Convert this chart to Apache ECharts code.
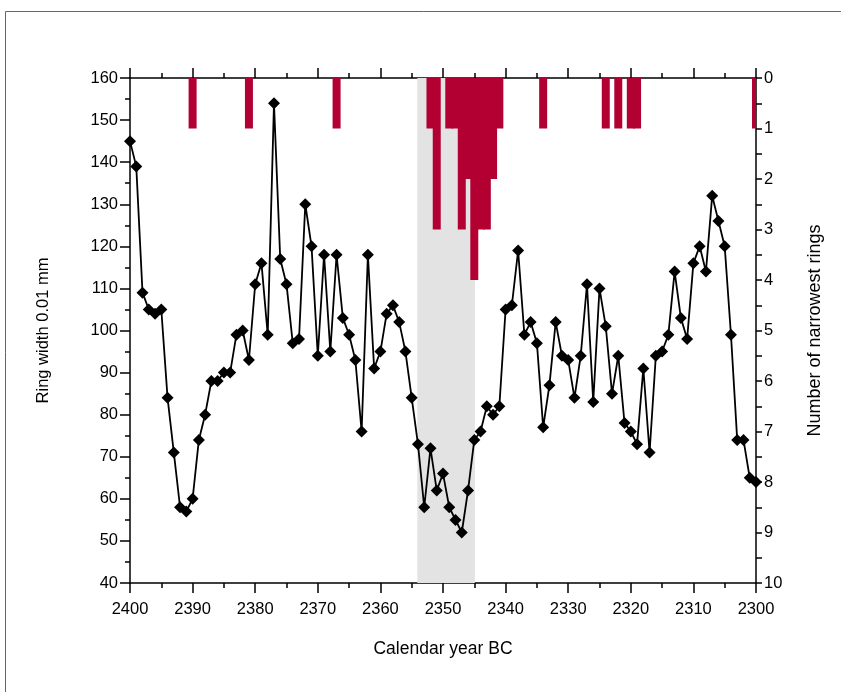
<!DOCTYPE html>
<html>
<head>
<meta charset="utf-8">
<script src="https://cdn.jsdelivr.net/npm/echarts@6/dist/echarts.min.js"></script>
<style>
html,body{margin:0;padding:0;background:#fff;}
#chart{width:841px;height:692px;}
</style>
</head>
<body>
<div id="chart"></div>
<script>
var years = [2400,2399,2398,2397,2396,2395,2394,2393,2392,2391,2390,2389,2388,2387,2386,2385,2384,2383,2382,2381,2380,2379,2378,2377,2376,2375,2374,2373,2372,2371,2370,2369,2368,2367,2366,2365,2364,2363,2362,2361,2360,2359,2358,2357,2356,2355,2354,2353,2352,2351,2350,2349,2348,2347,2346,2345,2344,2343,2342,2341,2340,2339,2338,2337,2336,2335,2334,2333,2332,2331,2330,2329,2328,2327,2326,2325,2324,2323,2322,2321,2320,2319,2318,2317,2316,2315,2314,2313,2312,2311,2310,2309,2308,2307,2306,2305,2304,2303,2302,2301,2300];
var ringWidth = [145,139,109,105,104,105,84,71,58,57,60,74,80,88,88,90,90,99,100,93,111,116,99,154,117,111,97,98,130,120,94,118,95,118,103,99,93,76,118,91,95,104,106,102,95,84,73,58,72,62,66,58,55,52,62,74,76,82,80,82,105,106,119,99,102,97,77,87,102,94,93,84,94,111,83,110,101,85,94,78,76,73,91,71,94,95,99,114,103,98,116,120,114,132,126,120,99,74,74,65,64];
var narrowYears = [2390,2381,2367,2352,2351,2349,2348,2347,2346,2345,2344,2343,2342,2341,2334,2324,2322,2320,2319,2300];
var narrowCounts = [1,1,1,1,3,1,1,3,2,4,3,3,2,1,1,1,1,1,1,1];
var shadeFrom = 2354.1, shadeTo = 2344.9;

var FONT = '"Liberation Sans",Arial,sans-serif';
var lineData = years.map(function(y,i){return [y, ringWidth[i]];});
var barData = narrowYears.map(function(y,i){return [y, narrowCounts[i]];});
var BAR_W = 8;

var axisLine = {show:true, onZero:false, lineStyle:{color:'#000', width:1.5}};
var tick = {show:true, inside:false, length:10, lineStyle:{color:'#000', width:1.5}};
var minor = {show:true, splitNumber:2, length:5, lineStyle:{color:'#000', width:1.5}};
var plain = function(v){return String(v);};

var chart = echarts.init(document.getElementById('chart'), null, {renderer:'canvas'});
chart.setOption({
  backgroundColor:'#fff',
  animation:false,
  graphic:[{type:'rect', shape:{x:5.5, y:11.5, width:900, height:800}, style:{fill:'none', stroke:'#666', lineWidth:1}, silent:true}],
  grid:{left:130, right:85, top:78, bottom:109, containLabel:false},
  xAxis:[{
    type:'value', min:2300, max:2400, interval:10, inverse:true, position:'bottom',
    name:'Calendar year BC', nameLocation:'middle', nameGap:57,
    nameTextStyle:{fontFamily:FONT, fontSize:17.5, color:'#000'},
    axisLine:axisLine, axisTick:tick, minorTick:minor,
    splitLine:{show:false},
    axisLabel:{fontFamily:FONT, fontSize:16.5, color:'#000', margin:18, formatter:plain}
  },{
    type:'value', min:2300, max:2400, interval:10, inverse:true, position:'top',
    axisLine:axisLine, axisTick:tick, minorTick:minor,
    splitLine:{show:false},
    axisLabel:{show:false}
  }],
  yAxis:[{
    type:'value', min:40, max:160, interval:10, position:'left',
    name:'Ring width 0.01 mm', nameLocation:'middle', nameGap:78, nameRotate:90,
    nameTextStyle:{fontFamily:FONT, fontSize:16.5, color:'#000'},
    axisLine:axisLine, axisTick:tick, minorTick:minor,
    splitLine:{show:false},
    axisLabel:{fontFamily:FONT, fontSize:16.5, color:'#000', margin:12, formatter:plain}
  },{
    type:'value', min:0, max:10, interval:1, inverse:true, position:'right',
    name:'Number of narrowest rings', nameLocation:'middle', nameGap:50, nameRotate:90,
    nameTextStyle:{fontFamily:FONT, fontSize:18, color:'#000'},
    axisLine:axisLine,
    axisTick:{show:true, inside:false, length:6, lineStyle:{color:'#000', width:1.5}},
    minorTick:{show:true, splitNumber:2, length:6, lineStyle:{color:'#000', width:1.5}},
    splitLine:{show:false},
    axisLabel:{fontFamily:FONT, fontSize:16.5, color:'#000', margin:8, formatter:plain}
  }],
  series:[{
    type:'line', xAxisIndex:0, yAxisIndex:0, data:[], z:0, silent:true,
    markArea:{silent:true, itemStyle:{color:'#e3e3e3'}, data:[[{xAxis:shadeFrom},{xAxis:shadeTo}]]}
  },{
    type:'custom', xAxisIndex:0, yAxisIndex:1, data:barData, z:2, clip:true,
    encode:{x:0, y:1},
    renderItem:function(params, api){
      var top = api.coord([api.value(0), 0]);
      var bot = api.coord([api.value(0), api.value(1)]);
      var rect = echarts.graphic.clipRectByRect(
        {x: top[0] - BAR_W/2, y: top[1], width: BAR_W, height: bot[1] - top[1]},
        {x: params.coordSys.x, y: params.coordSys.y, width: params.coordSys.width, height: params.coordSys.height});
      return rect && {type:'rect', shape:rect, style:{fill:'#b30032'}};
    }
  },{
    type:'line', xAxisIndex:0, yAxisIndex:0, data:lineData, z:3,
    symbol:'diamond', symbolSize:12, showAllSymbol:true,
    lineStyle:{color:'#000', width:1.8},
    itemStyle:{color:'#000'}
  }]
});
</script>
</body>
</html>
